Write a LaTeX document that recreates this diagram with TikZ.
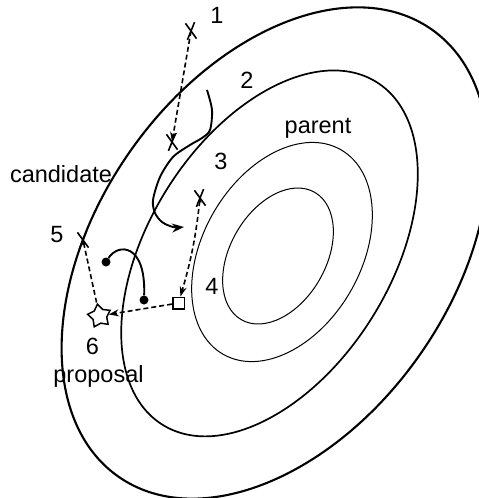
\documentclass[tikz,border=0pt]{standalone}
\usepackage{fontspec}
\setmainfont{Liberation Sans}
\usetikzlibrary{shapes.geometric,shapes.misc,arrows.meta}
\tikzset{
  lab/.style={font=\fontsize{23.5}{28}\selectfont, inner sep=0pt, anchor=base},
  xmark/.style={cross out, draw, line width=1.6pt, minimum width=15pt, minimum height=7.6pt, inner sep=0pt, rotate=97},
  dline/.style={line width=1.6pt, dash pattern=on 5pt off 3pt},
  sline/.style={line width=1.9pt},
  c1/.style={line width=2.1pt},
  c2/.style={line width=1.7pt},
  c3/.style={line width=1.0pt},
  dotn/.style={circle, fill=black, inner sep=0pt, minimum size=9pt},
}
\begin{document}
\begin{tikzpicture}[x=1pt,y=-1pt]
\useasboundingbox (0,0) rectangle (479,498);
\clip (0,0) rectangle (479,498);
% contours
\draw[c1, rotate around={55:(275,253)}] (275,253) ellipse [x radius=273pt, y radius=177pt];
\draw[c2, rotate around={58:(269.5,253.4)}] (269.5,253.4) ellipse [x radius=202pt, y radius=121pt];
\draw[c3, rotate around={60:(282,252)}] (282,252) ellipse [x radius=118pt, y radius=79pt];
\draw[c3, rotate around={60:(278,256)}] (278,256) ellipse [x radius=73.5pt, y radius=47.8pt];
% labels
\node[lab] (l1) at (217,23) {1};
\node[lab] (l2) at (247,88) {2};
\node[lab] (lparent) at (318,133) {parent};
\node[lab] (l3) at (221,169) {3};
\node[lab] (lcand) at (61,182) {candidate};
\node[lab] (l5) at (57,242) {5};
\node[lab] (l4) at (212,294) {4};
\node[lab] (l6) at (92.5,354) {6};
\node[lab] (lprop) at (98.5,382) {proposal};
% markers
\node[xmark] (x1) at (191,31) {};
\node[xmark] (x2) at (172,142) {};
\node[xmark] (x3) at (200,198) {};
\node[xmark] (x5) at (83,240) {};
\node[draw, line width=1.5pt, minimum size=11.5pt, inner sep=0pt] (sq) at (178.5,303) {};
\node[star, star points=5, star point ratio=1.65, draw, line width=1.5pt, minimum size=24pt, inner sep=0pt, rotate=10] (st) at (99.5,316) {};
\node[dotn] (d1) at (106,262) {};
\node[dotn] (d2) at (144,300) {};
\coordinate (a0) at (207,90);
\coordinate (a1) at (184,227);
% dashed connectors
\draw[dline, -{Stealth[length=10pt,width=7pt]}] (x1.center) -- (x2.center);
\draw[dline, {Stealth[length=5pt,width=4pt]}-{Stealth[length=10pt,width=7pt]}] (x3.center) to[bend left=5] (sq);
\draw[dline, {Stealth[length=5pt,width=4pt]}-] (x5.center) -- (st);
\draw[dline, -{Stealth[length=10pt,width=7pt]}] (sq) -- (st);
% solid curves
\draw[sline, -{Stealth[length=12pt,width=9pt]}] plot[smooth] coordinates {(a0) (212,110) (210,130) (202,138) (190,145) (173,157) (160,177) (153,200) (155,213) (162,222) (173,227) (a1)};
\draw[sline] (d1) .. controls (118,243) and (146,243) .. (d2);
\end{tikzpicture}
\end{document}
